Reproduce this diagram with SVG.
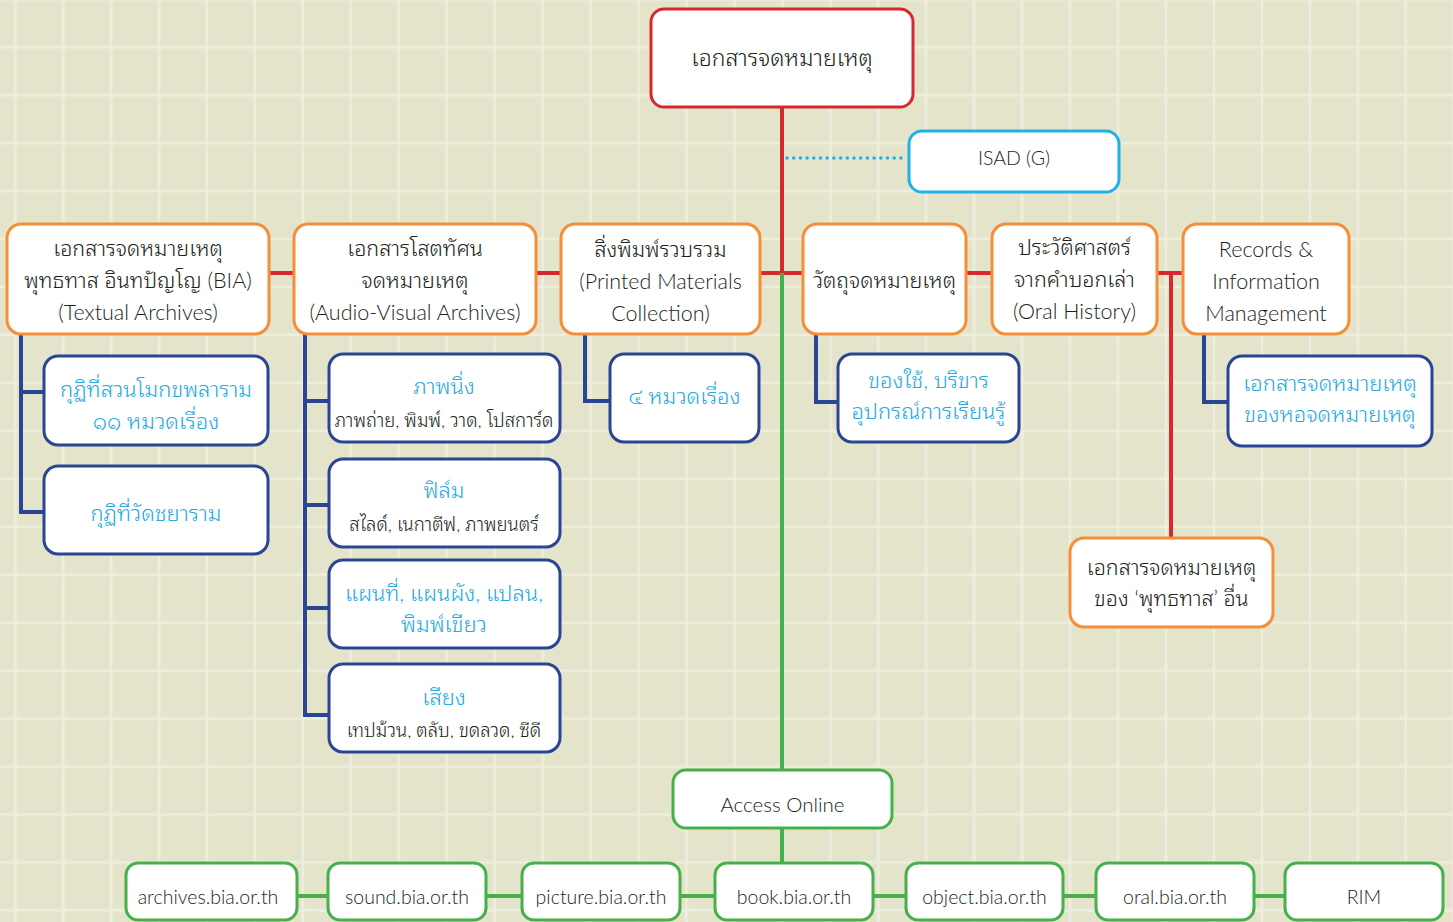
<svg xmlns="http://www.w3.org/2000/svg" width="1453" height="922" viewBox="0 0 1453 922">
<defs>
<pattern id="grid" patternUnits="userSpaceOnUse" x="-8.7" y="23.3" width="47.95" height="47.95">
<rect width="47.95" height="47.95" fill="#e4e4cb"/>
<rect x="22.5" y="0" width="2.8" height="47.95" fill="#eeeede"/>
<rect x="0" y="22.5" width="47.95" height="2.8" fill="#eeeede"/>
</pattern>
<style>
.t{font-family:"Lato","Noto Sans Thai Looped","Noto Sans Thai","Noto Sans",sans-serif;text-anchor:middle;fill:#231f20;font-weight:300;}
.lb{fill:#27aae1;}
.box{fill:#ffffff;stroke-width:3;}
.red{stroke:#d7282f;}
.org{stroke:#f68d39;}
.cy{stroke:#1fb1e8;}
.nav{stroke:#2b4595;}
.grn{stroke:#46b04a;}
.ln{fill:none;stroke-width:4;}
</style>
</defs>
<rect width="1453" height="922" fill="url(#grid)"/>

<g id="connectors">
<path class="ln red" d="M782,107 V273 M269,273 H1183 M1171,273 V538"/>
<path class="ln grn" d="M782,273 V770 M782,828 V863 M297,896 H1285"/>
<path d="M787,158 H906" fill="none" stroke="#1fb1e8" stroke-width="3.5" stroke-linecap="round" stroke-dasharray="0 6.7"/>
<path class="ln nav" d="M21,334 V512 H44 M21,392 H44"/>
<path class="ln nav" d="M305,334 V715 H329 M305,401 H329 M305,505 H329 M305,608 H329"/>
<path class="ln nav" d="M585,334 V401 H609"/>
<path class="ln nav" d="M816,334 V402 H838"/>
<path class="ln nav" d="M1204,334 V402 H1228"/>
</g>

<g id="root">
<rect class="box red" x="651" y="9" width="262" height="98" rx="13"/>
<text class="t" x="782" y="66" font-size="23">เอกสารจดหมายเหตุ</text>
</g>
<g id="isad">
<rect class="box cy" x="909" y="131" width="210" height="61" rx="13"/>
<text class="t" x="1014" y="165" font-size="19.5">ISAD (G)</text>
</g>

<g id="textual">
<rect class="box org" x="7" y="224" width="262" height="110" rx="14"/>
<text class="t" x="138" y="256" font-size="21.5">เอกสารจดหมายเหตุ</text>
<text class="t" x="138" y="288" font-size="21.5">พุทธทาส อินทปัญโญ (BIA)</text>
<text class="t" x="138" y="320" font-size="21.5">(Textual Archives)</text>
</g>
<g id="audiovisual">
<rect class="box org" x="294" y="224" width="242" height="110" rx="14"/>
<text class="t" x="415" y="256" font-size="21.5">เอกสารโสตทัศน</text>
<text class="t" x="415" y="288" font-size="21.5">จดหมายเหตุ</text>
<text class="t" x="415" y="320" font-size="21.5">(Audio-Visual Archives)</text>
</g>
<g id="printed">
<rect class="box org" x="561" y="224" width="199" height="110" rx="14"/>
<text class="t" x="660.5" y="257" font-size="21.5">สิ่งพิมพ์รวบรวม</text>
<text class="t" x="660.5" y="289" font-size="21.5">(Printed Materials</text>
<text class="t" x="660.5" y="321" font-size="21.5">Collection)</text>
</g>
<g id="objects">
<rect class="box org" x="803" y="224" width="163" height="110" rx="14"/>
<text class="t" x="884.5" y="288" font-size="21.5">วัตถุจดหมายเหตุ</text>
</g>
<g id="oralhistory">
<rect class="box org" x="992" y="224" width="165" height="110" rx="14"/>
<text class="t" x="1074.5" y="255" font-size="21.5">ประวัติศาสตร์</text>
<text class="t" x="1074.5" y="287" font-size="21.5">จากคำบอกเล่า</text>
<text class="t" x="1074.5" y="319" font-size="21.5">(Oral History)</text>
</g>
<g id="rim">
<rect class="box org" x="1183" y="224" width="166" height="110" rx="14"/>
<text class="t" x="1266" y="257" font-size="21.5">Records &amp;</text>
<text class="t" x="1266" y="289" font-size="21.5">Information</text>
<text class="t" x="1266" y="321" font-size="21.5">Management</text>
</g>
<g id="others">
<rect class="box org" x="1070" y="538" width="203" height="89" rx="14"/>
<text class="t" x="1171.5" y="575" font-size="21.5">เอกสารจดหมายเหตุ</text>
<text class="t" x="1171.5" y="606" font-size="21.5">ของ ‘พุทธทาส’ อื่น</text>
</g>

<g id="suanmokkh">
<rect class="box nav" x="44" y="356" width="224" height="89" rx="14"/>
<text class="t lb" x="156" y="397" font-size="22">กุฏิที่สวนโมกขพลาราม</text>
<text class="t lb" x="156" y="429" font-size="22">๑๑ หมวดเรื่อง</text>
</g>
<g id="chaiyaram">
<rect class="box nav" x="44" y="466" width="224" height="88" rx="14"/>
<text class="t lb" x="156" y="521" font-size="22">กุฏิที่วัดชยาราม</text>
</g>
<g id="stills">
<rect class="box nav" x="329" y="354" width="231" height="88" rx="14"/>
<text class="t lb" x="444" y="394" font-size="22">ภาพนิ่ง</text>
<text class="t" x="444" y="427" font-size="18.5">ภาพถ่าย, พิมพ์, วาด, โปสการ์ด</text>
</g>
<g id="film">
<rect class="box nav" x="329" y="459" width="231" height="88" rx="14"/>
<text class="t lb" x="444" y="498" font-size="22">ฟิล์ม</text>
<text class="t" x="444" y="531" font-size="18.5">สไลด์, เนกาตีฟ, ภาพยนตร์</text>
</g>
<g id="maps">
<rect class="box nav" x="329" y="560" width="231" height="88" rx="14"/>
<text class="t lb" x="444" y="601" font-size="22">แผนที่, แผนผัง, แปลน,</text>
<text class="t lb" x="444" y="632" font-size="22">พิมพ์เขียว</text>
</g>
<g id="sound">
<rect class="box nav" x="329" y="664" width="231" height="88" rx="14"/>
<text class="t lb" x="444" y="705" font-size="22">เสียง</text>
<text class="t" x="444" y="737" font-size="18.5">เทปม้วน, ตลับ, ขดลวด, ซีดี</text>
</g>
<g id="fourcat">
<rect class="box nav" x="610" y="354" width="149" height="88" rx="14"/>
<text class="t lb" x="684.5" y="404" font-size="22">๔ หมวดเรื่อง</text>
</g>
<g id="utensils">
<rect class="box nav" x="838" y="354" width="181" height="88" rx="14"/>
<text class="t lb" x="928.5" y="388" font-size="22">ของใช้, บริขาร</text>
<text class="t lb" x="928.5" y="419" font-size="22">อุปกรณ์การเรียนรู้</text>
</g>
<g id="archivesrecords">
<rect class="box nav" x="1228" y="356" width="204" height="90" rx="14"/>
<text class="t lb" x="1330" y="391" font-size="22">เอกสารจดหมายเหตุ</text>
<text class="t lb" x="1330" y="422" font-size="22">ของหอจดหมายเหตุ</text>
</g>

<g id="access">
<rect class="box grn" x="673" y="770" width="219" height="58" rx="13"/>
<text class="t" x="782.5" y="812" font-size="20.5">Access Online</text>
</g>
<g id="site-archives">
<rect class="box grn" x="126" y="863" width="171" height="57" rx="12"/>
<text class="t" x="208" y="904" font-size="19.5">archives.bia.or.th</text>
</g>
<g id="site-sound">
<rect class="box grn" x="328" y="863" width="158" height="57" rx="12"/>
<text class="t" x="407" y="904" font-size="19.5">sound.bia.or.th</text>
</g>
<g id="site-picture">
<rect class="box grn" x="522" y="863" width="158" height="57" rx="12"/>
<text class="t" x="601" y="904" font-size="19.5">picture.bia.or.th</text>
</g>
<g id="site-book">
<rect class="box grn" x="715" y="863" width="158" height="57" rx="12"/>
<text class="t" x="794" y="904" font-size="19.5">book.bia.or.th</text>
</g>
<g id="site-object">
<rect class="box grn" x="906" y="863" width="157" height="57" rx="12"/>
<text class="t" x="984.5" y="904" font-size="19.5">object.bia.or.th</text>
</g>
<g id="site-oral">
<rect class="box grn" x="1096" y="863" width="158" height="57" rx="12"/>
<text class="t" x="1175" y="904" font-size="19.5">oral.bia.or.th</text>
</g>
<g id="site-rim">
<rect class="box grn" x="1285" y="863" width="158" height="57" rx="12"/>
<text class="t" x="1364" y="904" font-size="19.5">RIM</text>
</g>
</svg>
